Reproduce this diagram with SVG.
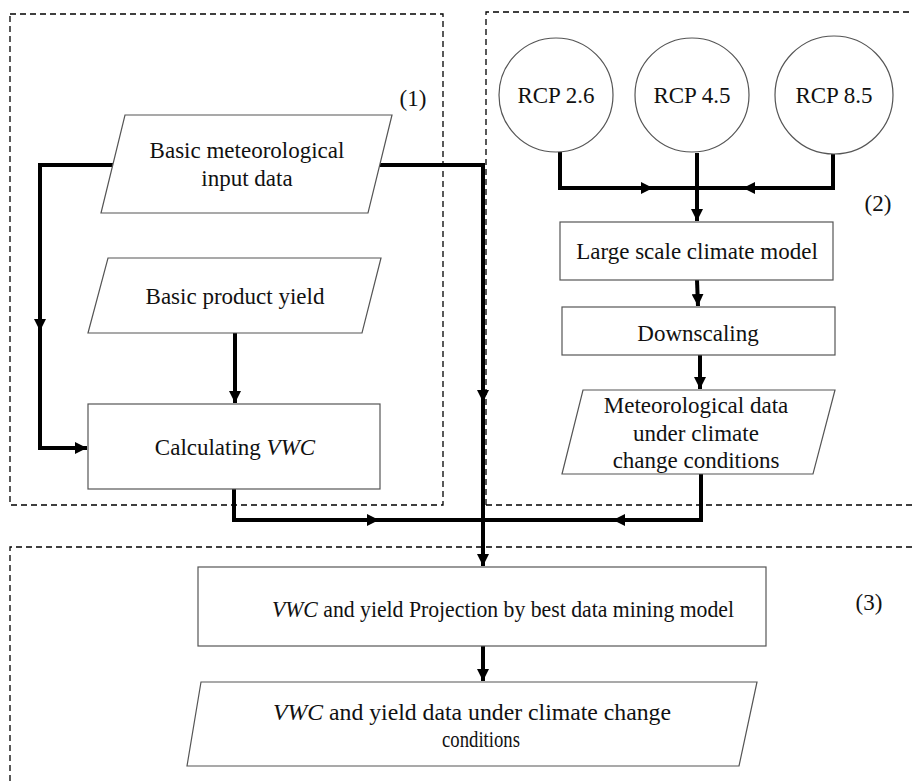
<svg xmlns="http://www.w3.org/2000/svg" width="912" height="781" viewBox="0 0 912 781">
<style>
.bg{fill:#fff}
.zone{fill:none;stroke:#000;stroke-width:1.3;stroke-dasharray:6,4}
.node{fill:#fff;stroke:#555;stroke-width:1.2}
.t{font-family:"Liberation Serif","Times New Roman",serif;font-size:23px;fill:#111;text-anchor:middle}
.i{font-style:italic}
.c{fill:none;stroke:#000;stroke-width:4;stroke-linejoin:miter}
</style>
<defs>
<marker id="ah" markerUnits="userSpaceOnUse" markerWidth="14" markerHeight="12" refX="12" refY="6" orient="auto">
<path d="M0,0 L12,6 L0,12 z" fill="#000"/>
</marker>
</defs>
<rect class="bg" x="0" y="0" width="912" height="781"/>
<g id="zones">
<rect class="zone" x="10" y="14" width="433" height="491"/>
<path class="zone" d="M486,505 V12 H912"/>
<path class="zone" d="M486,505 H912"/>
<path class="zone" d="M10,781 V547 H912"/>
</g>
<g id="labels">
<text class="t" x="413" y="106">(1)</text>
<text class="t" x="878" y="211">(2)</text>
<text class="t" x="869" y="610">(3)</text>
</g>
<g id="connectors">
<path class="c" d="M113,165 H40 V331" marker-end="url(#ah)"/>
<path class="c" d="M40,325 V448 H87" marker-end="url(#ah)"/>
<path class="c" d="M380,165 H483 V402" marker-end="url(#ah)"/>
<path class="c" d="M483,396 V566" marker-end="url(#ah)"/>
<path class="c" d="M235,333 V403" marker-end="url(#ah)"/>
<path class="c" d="M234,489 V520 H379" marker-end="url(#ah)"/>
<path class="c" d="M373,520 H483"/>
<path class="c" d="M701,474 V520 H613" marker-end="url(#ah)"/>
<path class="c" d="M619,520 H483"/>
<path class="c" d="M560,152 V188 H653" marker-end="url(#ah)"/>
<path class="c" d="M647,188 H697"/>
<path class="c" d="M833,154 V188 H743" marker-end="url(#ah)"/>
<path class="c" d="M749,188 H697"/>
<path class="c" d="M697,153 V221" marker-end="url(#ah)"/>
<path class="c" d="M697,280 L698,306" marker-end="url(#ah)"/>
<path class="c" d="M700,355 V389" marker-end="url(#ah)"/>
<path class="c" d="M483,646 V681" marker-end="url(#ah)"/>
</g>
<g id="n-basic-met">
<polygon class="node" points="125,115 392,115 368,213 101,213"/>
<text class="t" x="247" y="158">Basic meteorological</text>
<text class="t" x="247" y="186">input data</text>
</g>
<g id="n-product-yield">
<polygon class="node" points="108,258 381,258 362,333 88,333"/>
<text class="t" x="235" y="304">Basic product yield</text>
</g>
<g id="n-calc-vwc">
<rect class="node" x="88" y="404" width="292" height="85"/>
<text class="t" x="235" y="455">Calculating  <tspan class="i">VWC</tspan></text>
</g>
<g id="n-rcp26">
<circle class="node" cx="556" cy="95" r="57"/>
<text class="t" x="556" y="103">RCP 2.6</text>
</g>
<g id="n-rcp45">
<circle class="node" cx="692" cy="95" r="57"/>
<text class="t" x="692" y="103">RCP 4.5</text>
</g>
<g id="n-rcp85">
<circle class="node" cx="834" cy="95" r="59"/>
<text class="t" x="834" y="103">RCP 8.5</text>
</g>
<g id="n-large-scale">
<rect class="node" x="560" y="222" width="273" height="58"/>
<text class="t" x="697" y="259">Large scale climate model</text>
</g>
<g id="n-downscaling">
<rect class="node" x="562" y="307" width="273" height="48"/>
<text class="t" x="698" y="341">Downscaling</text>
</g>
<g id="n-met-cc">
<polygon class="node" points="583,390 835,390 813,474 562,474"/>
<text class="t" x="696" y="413">Meteorological data</text>
<text class="t" x="696" y="441">under climate</text>
<text class="t" x="696" y="468">change conditions</text>
</g>
<g id="n-projection">
<rect class="node" x="198" y="567" width="568" height="79"/>
<text class="t" x="503" y="617" textLength="462" lengthAdjust="spacingAndGlyphs"><tspan class="i">VWC</tspan> and yield Projection by best data mining model</text>
</g>
<g id="n-final">
<polygon class="node" points="201,682 757,682 739,766 187,766"/>
<text class="t" x="472" y="720" textLength="398" lengthAdjust="spacingAndGlyphs"><tspan class="i">VWC</tspan>  and yield data under climate change</text>
<text class="t" x="481" y="747" textLength="78" lengthAdjust="spacingAndGlyphs">conditions</text>
</g>
</svg>
